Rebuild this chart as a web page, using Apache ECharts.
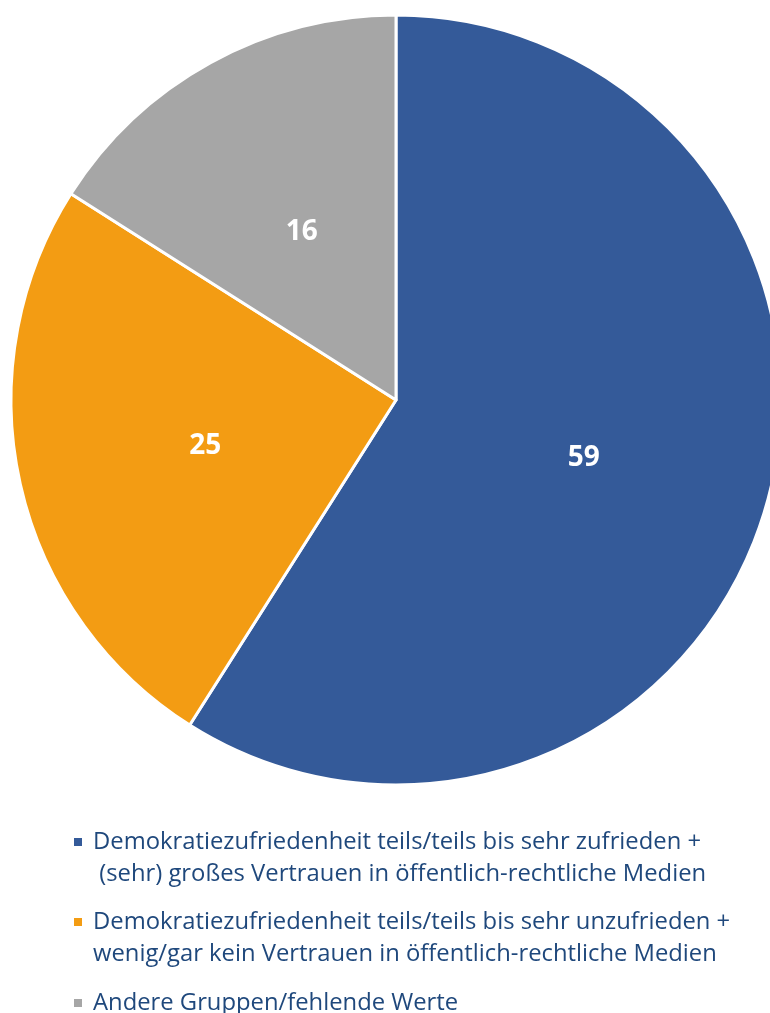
<!DOCTYPE html>
<html lang="de">

<head>
    <meta charset="UTF-8">
    <title>pie</title>
    <style>
        html,
        body {
            margin: 0;
            padding: 0;
            background: #fff;
        }
    </style>
</head>

<body>
    <div id="show" style="width: 770px; height: 1013px;"></div>

    <script src="https://cdn.jsdelivr.net/npm/echarts@6/dist/echarts.min.js"></script>
    <script>
        var names = [
            'Demokratiezufriedenheit teils/teils bis sehr zufrieden +\n (sehr) großes Vertrauen in öffentlich-rechtliche Medien',
            'Demokratiezufriedenheit teils/teils bis sehr unzufrieden +\nwenig/gar kein Vertrauen in öffentlich-rechtliche Medien',
            'Andere Gruppen/fehlende Werte'
        ];
        var values = [59, 25, 16];
        var colors = ['#345a99', '#f39c13', '#a6a6a6'];

        var font = '"Open Sans", sans-serif';
        var lh = 32;

        // one legend per entry; a blank line above multi-line names
        // keeps the marker level with the first line
        var legendTops = [794, 874, 987];
        var legends = names.map(function (n, i) {
            var multi = n.indexOf('\n') >= 0;
            return {
                orient: 'vertical',
                left: 72,
                top: legendTops[i],
                padding: 0,
                icon: 'rect',
                itemWidth: 10,
                itemHeight: 10,
                selectedMode: false,
                data: [n],
                formatter: function (name) {
                    return multi ? '\n' + name : name;
                },
                textStyle: {
                    color: '#1f487c',
                    fontFamily: font,
                    fontSize: 23.8,
                    lineHeight: lh,
                    padding: [0, 0, 0, 5]
                }
            };
        });

        var chart = echarts.init(document.querySelector('#show'));
        chart.setOption({
            animation: false,
            color: colors,
            legend: legends,
            series: [{
                type: 'pie',
                center: [396, 400],
                radius: 385,
                startAngle: 90,
                clockwise: true,
                silent: true,
                itemStyle: {
                    borderColor: '#fff',
                    borderWidth: 3
                },
                label: {
                    position: 'inside',
                    color: '#fff',
                    fontFamily: font,
                    fontWeight: 'bold',
                    fontSize: 28,
                    offset: [0, 3],
                    formatter: '{c}'
                },
                labelLine: { show: false },
                data: names.map(function (n, i) {
                    return { name: n, value: values[i] };
                })
            }]
        });
    </script>
</body>

</html>
